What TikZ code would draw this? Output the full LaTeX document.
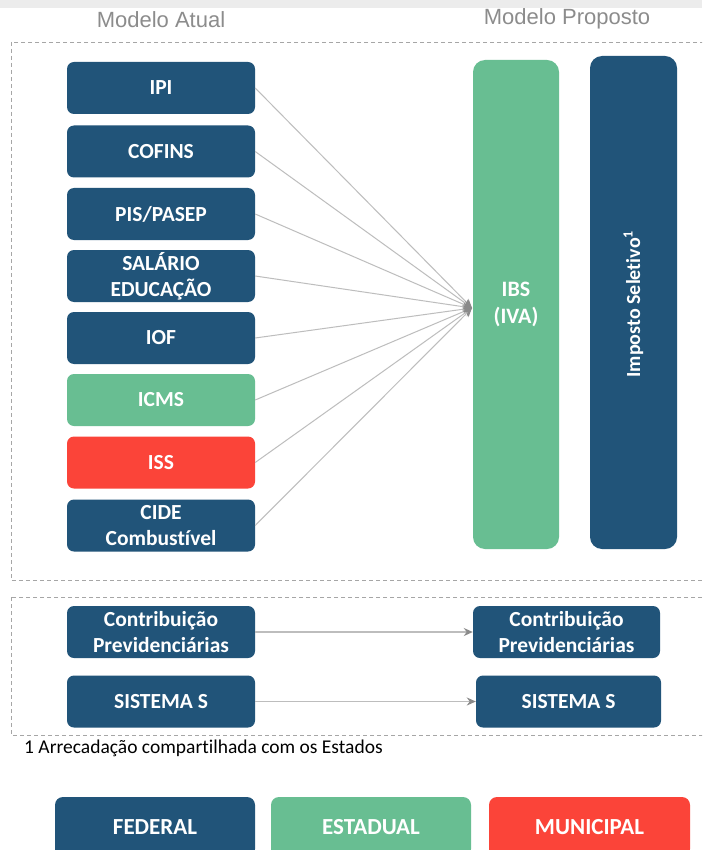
\documentclass[tikz,border=0pt]{standalone}
\usepackage{fontspec}
\setmainfont[Ligatures=NoCommon]{Carlito}
\newfontfamily\headfont{Liberation Sans}
\usetikzlibrary{arrows.meta}
\definecolor{fedblue}{HTML}{215479}
\definecolor{estgreen}{HTML}{68BE92}
\definecolor{munred}{HTML}{FB4439}
\definecolor{linegray}{HTML}{BDBDBD}
\definecolor{dashgray}{HTML}{A6A6A6}
\definecolor{headgray}{HTML}{8C8C8C}
\definecolor{tipgray}{HTML}{8A8A8A}
\tikzset{
  taxbox/.style={rounded corners=7pt, minimum width=188pt, minimum height=52pt,
    text=white, align=center, inner sep=0pt, font=\bfseries\fontsize{21.5}{26}\selectfont},
  fed/.style={taxbox, fill=fedblue},
  est/.style={taxbox, fill=estgreen},
  mun/.style={taxbox, fill=munred},
  bar/.style={rounded corners=12pt, minimum width=86pt, text=white, align=center,
    inner sep=0pt, font=\bfseries\fontsize{22}{27}\selectfont},
  legend/.style={rounded corners=8pt, minimum width=200pt, minimum height=60pt,
    text=white, inner sep=0pt, font=\bfseries\fontsize{23}{26}\selectfont},
  conn/.style={draw=linegray, line width=1pt, -{Stealth[length=9pt,width=8pt,color=tipgray]}},
  hconn/.style={draw=linegray, line width=1.6pt, -{Stealth[length=9pt,width=8pt,color=tipgray]}},
  groupbox/.style={draw=dashgray, dash pattern=on 4pt off 3pt, line width=0.8pt},
  header/.style={text=headgray, font=\headfont\fontsize{22}{24}\selectfont},
}
\begin{document}
\begin{tikzpicture}[x=1pt,y=-1pt]
\path[use as bounding box, clip] (0,0) rectangle (702,850);
\fill[white] (0,0) rectangle (702,850);
\fill[gray!15] (0,0) rectangle (702,8);

\node[header] (hatual) at (161,20) {Modelo Atual};
\node[header] (hprop) at (567,19) {Modelo Proposto};

\draw[groupbox] (11,42) rectangle (712,580);
\draw[groupbox] (11,597) rectangle (712,735);

\node[fed] (ipi) at (161,88) {IPI};
\node[fed] (cofins) at (161,151.5) {COFINS};
\node[fed] (pis) at (161,214) {PIS/PASEP};
\node[fed] (sal) at (161,276) {SALÁRIO\\EDUCAÇÃO};
\node[fed] (iof) at (161,338) {IOF};
\node[est] (icms) at (161,400) {ICMS};
\node[mun] (iss) at (161,462.5) {ISS};
\node[fed] (cide) at (161,525.5) {CIDE\\Combustível};

\node[bar, fill=estgreen, minimum height=489pt] (ibs) at (516,304.5) {IBS\\(IVA)};
\node[bar, fill=fedblue, minimum width=87pt, minimum height=493pt] (sel) at (633.5,302.5) {};
\node[rotate=90, text=white, font=\bfseries\fontsize{20}{22}\selectfont] (seltext) at (633.5,304) {Imposto Seletivo\textsuperscript{1}};

\coordinate (conv) at (472,308);
\foreach \n in {ipi,cofins,pis,sal,iof,icms,iss,cide}
  \draw[conn] (\n.east) -- (conv);

\node[fed] (contl) at (161,632) {Contribuição\\Previdenciárias};
\node[fed, minimum width=187pt] (contr) at (566.5,632) {Contribuição\\Previdenciárias};
\node[fed] (sisl) at (161,701.5) {SISTEMA S};
\node[fed, minimum width=185pt] (sisr) at (568.5,701.5) {SISTEMA S};
\draw[hconn] (contl) -- (contr);
\draw[hconn] (sisl) -- (sisr);

\node[anchor=west, inner sep=0pt, font=\fontsize{19.5}{22}\selectfont] (foot) at (24,748) {1 Arrecadação compartilhada com os Estados};

\node[legend, fill=fedblue] (lfed) at (155,827) {FEDERAL};
\node[legend, fill=estgreen] (lest) at (371,827) {ESTADUAL};
\node[legend, fill=munred, minimum width=201pt] (lmun) at (589.5,827) {MUNICIPAL};
\end{tikzpicture}
\end{document}
